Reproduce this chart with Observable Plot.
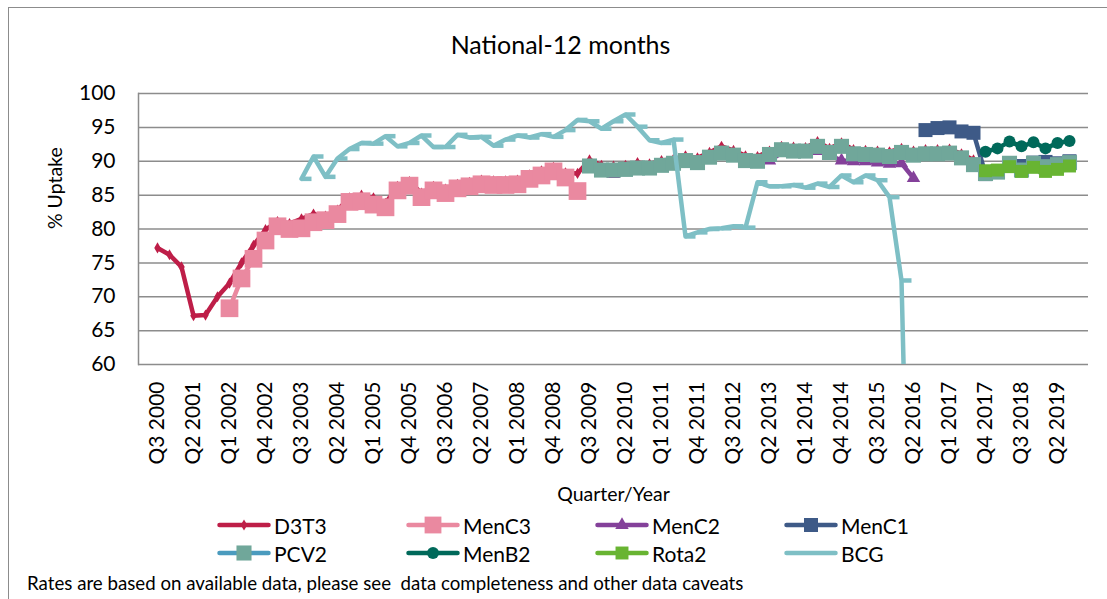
<!DOCTYPE html>
<html>
<head>
<meta charset="utf-8">
<script src="https://cdn.jsdelivr.net/npm/d3@7"></script>
<script src="https://cdn.jsdelivr.net/npm/@observablehq/plot@0.6"></script>
<style>
html, body { margin: 0; padding: 0; background: #fff; overflow: hidden; }
body { width: 1107px; height: 599px; position: relative; font-family: Lato, sans-serif; color: #000; }
#border { position: absolute; left: 8px; top: 7px; width: 1300px; height: 800px;
  border-left: 1.5px solid #8c8c8c; border-top: 1.5px solid #8c8c8c; pointer-events: none; }
#chart { position: absolute; left: 0; top: 0; }
#legend { position: absolute; left: 217px; top: 511px; display: grid;
  grid-template-columns: repeat(4, 189px); grid-auto-rows: 28px; }
.item { display: flex; align-items: center; font-size: 21px; line-height: 1; }
.item svg { margin-right: 3px; flex: none; }
#caption { position: absolute; left: 27px; top: 572px; font-size: 18.7px; white-space: pre; }
</style>
</head>
<body>
<div id="border"></div>
<div id="chart"></div>
<div id="legend"></div>
<div id="caption"></div>
<script>
// ---- categories ----
const quarters = [];
{
  let yr = 2000, q = 3;
  for (let i = 0; i < 77; i++) {
    quarters.push(`Q${q} ${yr}`);
    q++; if (q > 4) { q = 1; yr++; }
  }
}
const xTickLabels = quarters.filter((d, i) => i % 3 === 0);
const yTicks = [60, 65, 70, 75, 80, 85, 90, 95, 100];

// ---- series values (start index into quarters + values) ----
const d3t3Start = 0;
const d3t3 = [77.2,76.2,74.4,67.2,67.3,70.0,72.0,75.0,77.6,79.9,
  81.1,80.8,81.5,82.2,81.9,82.8,84.6,85.0,84.6,83.8,
  86.3,87.0,85.3,86.3,85.9,86.6,86.9,87.2,87.1,87.1,
  87.2,88.0,88.6,89.1,88.3,88.2,90.2,89.4,89.3,89.4,
  89.8,89.6,90.1,90.3,90.8,90.5,91.3,92.2,91.6,90.8,
  90.7,91.5,92.2,92.1,92.0,92.9,91.9,92.7,91.7,91.6,
  91.5,91.4,91.9,91.5,91.7,91.7,91.8,91.1,90.2];

const menC3Start = 6;
const menC3 = [68.3,72.7,75.6,78.3,80.4,80.0,80.1,81.0,81.3,82.2,
  84.0,84.1,83.6,83.2,85.7,86.4,84.7,85.7,85.3,86.0,
  86.3,86.6,86.5,86.5,86.6,87.4,87.9,88.5,87.6,85.6];

const menC2Start = 36;
const menC2 = [89.0,88.3,88.1,88.4,88.7,88.8,89.1,89.4,89.8,89.6,
  90.3,90.8,90.5,89.8,89.7,90.1,91.2,91.2,91.2,91.5,
  90.9,90.1,90.0,90.0,89.8,89.6,89.7,87.5];

const menC1Start = 64;
const menC1 = [94.6,94.9,95.0,94.4,94.2,88.1,88.5,89.4,89.3,89.8,89.9,89.7,90.0];

const pcv2Start = 36;
const pcv2 = [89.3,88.7,88.7,88.8,89.0,89.0,89.4,89.7,90.1,89.8,
  90.6,91.2,90.9,90.1,90.0,91.0,91.7,91.5,91.5,92.2,
  91.3,92.2,91.1,91.0,90.9,90.7,91.3,90.9,91.1,91.1,
  91.2,90.5,89.5,88.2,88.4,89.7,88.7,89.7,89.2,89.5,
  89.8];

const menB2Start = 69;
const menB2 = [91.4,91.9,92.9,92.2,92.8,91.9,92.7,93.0];

const rota2Start = 69;
const rota2 = [88.6,88.7,89.2,88.5,89.1,88.5,88.8,89.3];

const bcgStart = 12;
const bcg = [87.4,90.7,87.7,90.4,91.8,92.7,92.6,93.7,92.2,92.7,
  93.8,92.1,92.1,93.9,93.5,93.6,92.3,93.2,93.8,93.5,
  94.0,93.6,94.6,96.1,95.9,94.8,95.9,96.9,95.1,93.1,
  92.7,93.2,78.9,79.5,80.0,80.1,80.4,80.2,86.9,86.3,
  86.3,86.5,86.1,86.7,86.2,87.9,86.9,87.9,87.2,84.7,
  72.4,0];

const seriesNames = ["D3T3","MenC3","MenC2","MenC1","PCV2","MenB2","Rota2","BCG"];

// ---- styles ----
const dashSymbol = { draw(ctx, size) { ctx.moveTo(0, 0); ctx.lineTo(10, 0); } };
const styles = {
  D3T3:  {line: "#BE1E48", fill: "#BE1E48", symbol: "diamond", r: 3.4},
  MenC3: {line: "#EA89A0", fill: "#EA89A0", symbol: "square", r: 10},
  MenC2: {line: "#84419A", fill: "#84419A", symbol: "triangle", r: 5},
  MenC1: {line: "#3E5A87", fill: "#3E5A87", symbol: "square", r: 7.9},
  PCV2:  {line: "#4A9BBE", fill: "#70A79A", symbol: "square", r: 8.5},
  MenB2: {line: "#00695A", fill: "#00695A", symbol: "circle", r: 6},
  Rota2: {line: "#68B432", fill: "#68B432", symbol: "square", r: 7.3},
  BCG:   {line: "#7EBFC5", fill: null, symbol: dashSymbol, r: 5}
};

function rows(start, values) {
  return values.map((v, i) => ({q: quarters[start + i], v}));
}
const data = {
  D3T3: rows(d3t3Start, d3t3),
  MenC3: rows(menC3Start, menC3),
  MenC2: rows(menC2Start, menC2),
  MenC1: rows(menC1Start, menC1),
  PCV2: rows(pcv2Start, pcv2),
  MenB2: rows(menB2Start, menB2),
  Rota2: rows(rota2Start, rota2),
  BCG: rows(bcgStart, bcg)
};

const LW = 4.5;
const seriesMarks = [];
for (const name of seriesNames) {
  const s = styles[name];
  seriesMarks.push(Plot.line(data[name], {x: "q", y: "v", stroke: s.line, strokeWidth: LW,
    strokeLinejoin: "round", strokeLinecap: "round", clip: true}));
  if (s.fill) {
    seriesMarks.push(Plot.dot(data[name], {x: "q", y: "v", symbol: s.symbol, r: s.r,
      fill: s.fill, stroke: "none", clip: true}));
  } else {
    seriesMarks.push(Plot.dot(data[name], {x: "q", y: "v", symbol: s.symbol, r: s.r,
      fill: "none", stroke: s.line, strokeWidth: LW, clip: true}));
  }
}

const chart = Plot.plot({
  width: 1107,
  height: 508,
  marginLeft: 138,
  marginRight: 19,
  marginTop: 93,
  marginBottom: 144,
  style: {fontFamily: "Lato, sans-serif", fontSize: "21px", color: "#000", background: "transparent", overflow: "visible"},
  x: {type: "point", domain: quarters, padding: 0.5},
  y: {domain: [60, 100]},
  marks: [
    Plot.gridY(yTicks, {stroke: "#8c8c8c", strokeOpacity: 1, strokeWidth: 1.5}),
    Plot.frame({anchor: "left", stroke: "#8c8c8c", strokeWidth: 1.5}),
    Plot.axisY({ticks: yTicks, tickSize: 0, tickPadding: 23, fontSize: 21, label: null}),
    Plot.axisX({ticks: xTickLabels, tickSize: 0, tickRotate: -90, tickPadding: 17, fontSize: 21, label: null}),
    ...seriesMarks,
    Plot.text(["National-12 months"], {frameAnchor: "top", dx: -53, dy: -48, fontSize: 25, lineAnchor: "middle"}),
    Plot.text(["Quarter/Year"], {frameAnchor: "bottom", dy: 130, fontSize: 19.5, lineAnchor: "middle"}),
    Plot.text(["% Uptake"], {frameAnchor: "left", dx: -83, rotate: -90, fontSize: 19.5, lineAnchor: "middle"})
  ]
});
document.getElementById("chart").appendChild(chart);

// ---- legend (order as in reference) ----
const legendOrder = ["D3T3","MenC3","MenC2","MenC1","PCV2","MenB2","Rota2","BCG"];
const symbolTypes = {diamond: d3.symbolDiamond, square: d3.symbolSquare, triangle: d3.symbolTriangle, circle: d3.symbolCircle};
const legend = document.getElementById("legend");
for (const name of legendOrder) {
  const s = styles[name];
  const item = document.createElement("div");
  item.className = "item";
  const ns = "http://www.w3.org/2000/svg";
  const svg = document.createElementNS(ns, "svg");
  svg.setAttribute("width", 54); svg.setAttribute("height", 24);
  const line = document.createElementNS(ns, "line");
  line.setAttribute("x1", 2.5); line.setAttribute("x2", 51.5);
  line.setAttribute("y1", 12); line.setAttribute("y2", 12);
  line.setAttribute("stroke", s.line); line.setAttribute("stroke-width", LW);
  line.setAttribute("stroke-linecap", "round");
  svg.appendChild(line);
  if (s.fill) {
    const p = document.createElementNS(ns, "path");
    const area = Math.PI * s.r * s.r * (name === "MenC3" ? 0.9 : 1);
    p.setAttribute("d", d3.symbol(symbolTypes[s.symbol], area)());
    p.setAttribute("transform", "translate(27,12)");
    p.setAttribute("fill", s.fill);
    svg.appendChild(p);
  }
  item.appendChild(svg);
  const t = document.createElement("span");
  t.textContent = name;
  item.appendChild(t);
  legend.appendChild(item);
}
document.getElementById("caption").textContent =
  "Rates are based on available data, please see  data completeness and other data caveats";
</script>
</body>
</html>
